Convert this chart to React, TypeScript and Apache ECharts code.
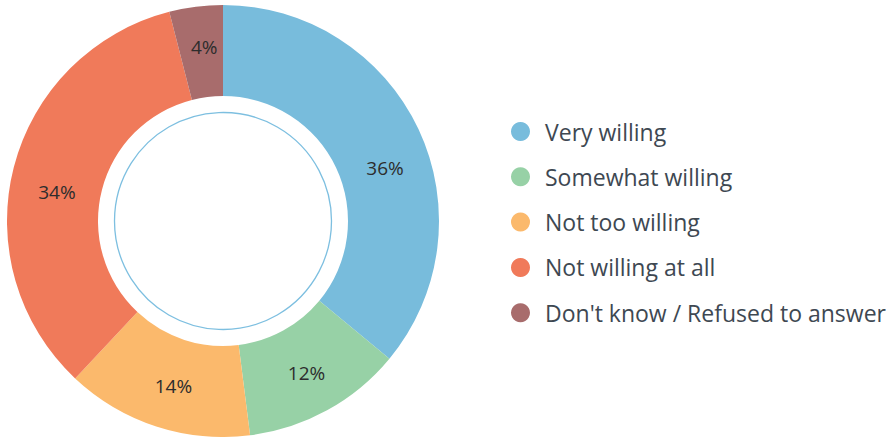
import React, { useEffect, useRef } from "react";
import * as echarts from "echarts";

const categories = [
  "Very willing",
  "Somewhat willing",
  "Not too willing",
  "Not willing at all",
  "Don't know / Refused to answer",
];
const values = [36, 12, 14, 34, 4];
const colors = ["#78bcdc", "#97d1a6", "#fbb96c", "#f07a5a", "#a86c6c"];
// small label nudges (style only)
const labelNudgeX = [5, 0, 4, 2, 3];
const labelNudgeY = [21, 0, 0, 14, -2];

export default function App() {
  const ref = useRef<HTMLDivElement>(null);
  useEffect(() => {
    document.body.style.margin = "0";
    const chart = echarts.init(ref.current!, null, { renderer: "svg" });
    const cx = 223;
    const cy = 221;
    chart.setOption({
      animation: false,
      backgroundColor: "#ffffff",
      color: colors,
      legend: {
        orient: "vertical",
        left: 506,
        top: 115,
        icon: "circle",
        itemWidth: 19,
        itemHeight: 19,
        itemGap: 22.3,
        selectedMode: false,
        textStyle: {
          fontFamily: "Open Sans",
          fontSize: 23,
          lineHeight: 19,
          color: "#3e4852",
          padding: [0, 0, 0, 10],
        },
        data: categories,
      },
      graphic: [
        {
          type: "circle",
          shape: { cx, cy, r: 108.5 },
          style: { fill: "none", stroke: "#7dbfe0", lineWidth: 1.3 },
          silent: true,
        },
      ],
      series: [
        {
          type: "pie",
          center: [cx, cy],
          radius: [125, 216],
          startAngle: 90,
          clockwise: true,
          avoidLabelOverlap: false,
          silent: true,
          label: {
            show: true,
            position: "inside",
            formatter: "{c}%",
            fontFamily: "Open Sans",
            fontSize: 19,
            color: "#2d2d2d",
          },
          labelLine: { show: false },
          labelLayout: (p: any) => ({
            dx: labelNudgeX[p.dataIndex],
            dy: labelNudgeY[p.dataIndex],
          }),
          itemStyle: { borderWidth: 0 },
          data: categories.map((name, i) => ({ name, value: values[i] })),
        },
      ],
    });
    return () => chart.dispose();
  }, []);
  return <div ref={ref} style={{ width: 886, height: 437 }} />;
}
